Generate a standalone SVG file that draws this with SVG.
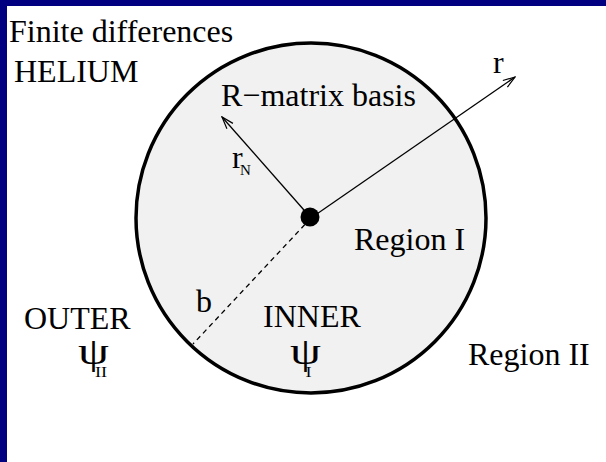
<svg xmlns="http://www.w3.org/2000/svg" width="606" height="462" viewBox="0 0 606 462">
<style>
text{font-family:"Liberation Serif","Times New Roman",serif;font-size:32px;fill:#000}
.sub{font-size:15px}
.psi{font-size:38px}
.sub2{font-size:14px}
.ln{stroke:#000;stroke-width:1.3;fill:none}
</style>
<defs>
<marker id="arr" markerWidth="14" markerHeight="10" refX="13" refY="5" orient="auto" markerUnits="userSpaceOnUse">
<path d="M1,1 L13,5 L1,9" fill="none" stroke="#000" stroke-width="1.2"/>
</marker>
</defs>
<rect x="0" y="0" width="606" height="462" fill="#fff"/>
<rect x="0" y="0" width="7" height="462" fill="#000080"/>
<rect x="0" y="0" width="606" height="6" fill="#000080"/>
<g id="region1">
<circle cx="311" cy="218" r="175" fill="#f1f1f1" stroke="#000" stroke-width="3.5"/>
</g>
<g id="connectors">
<line class="ln" x1="311" y1="218" x2="515" y2="77" marker-end="url(#arr)"/>
<line class="ln" x1="311" y1="218" x2="222" y2="117" marker-end="url(#arr)"/>
<line class="ln" x1="311" y1="218" x2="193" y2="344" stroke-dasharray="5,4"/>
</g>
<g id="center"><circle cx="310" cy="217" r="9.5" fill="#000"/></g>
<g id="labels">
<text x="9" y="42">Finite differences</text>
<text x="14" y="82">HELIUM</text>
<text x="221" y="106">R−matrix basis</text>
<text x="493" y="73">r</text>
<text x="232" y="168">r<tspan class="sub" x="240" dy="7">N</tspan></text>
<text x="354" y="250">Region I</text>
<text x="196" y="312">b</text>
<text x="24" y="329">OUTER</text>
<text transform="translate(78,364) scale(1.3,1)"><tspan class="psi">ψ</tspan><tspan class="sub2" x="13" dy="13">II</tspan></text>
<text x="263" y="327">INNER</text>
<text transform="translate(290,364) scale(1.3,1)"><tspan class="psi">ψ</tspan><tspan class="sub2" x="12" dy="13">I</tspan></text>
<text x="468" y="365">Region II</text>
</g>
</svg>
